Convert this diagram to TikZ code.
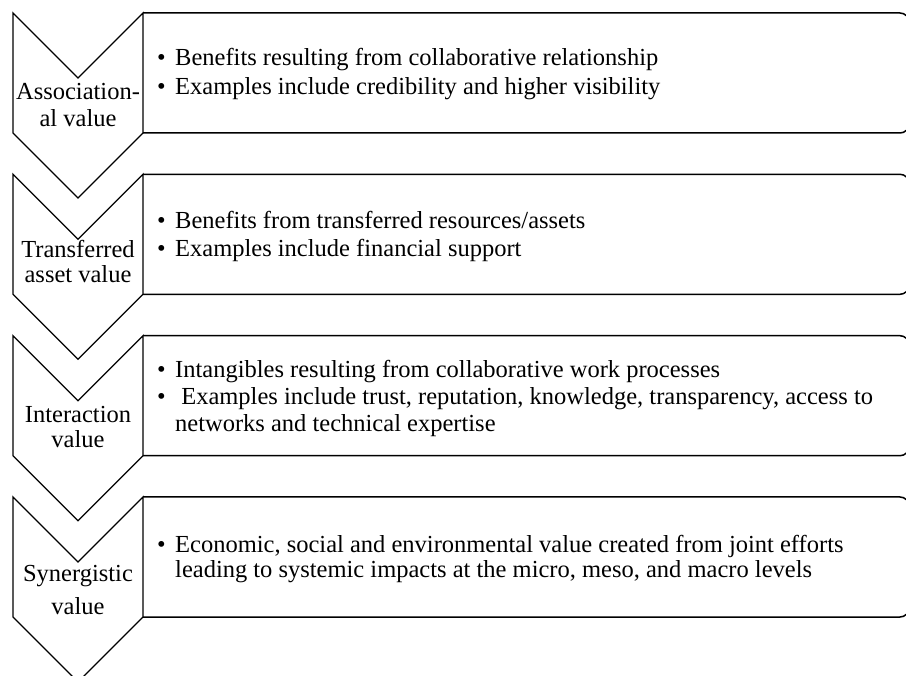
\documentclass[tikz,border=0pt]{standalone}
\usepackage{fontspec}
\setmainfont{Liberation Serif}
\usetikzlibrary{positioning}

\newcommand{\itm}{\makebox[18pt][l]{\textbullet}}
\newcommand{\cont}{\hspace*{18pt}}

\begin{document}
\begin{tikzpicture}[
    x=1pt, y=-1pt,
    chev/.style={draw, line width=1.3pt, line join=miter},
    panel/.style={draw, line width=1.5pt, rounded corners=9pt},
    tag/.style={align=center, inner sep=0pt, font=\fontsize{24.5}{25}\selectfont},
    info/.style={anchor=west, align=left, inner sep=0pt, font=\fontsize{24.5}{27}\selectfont}
]
    \useasboundingbox (0,0) rectangle (906,676);
    % Chevrons with their panels
    \foreach \t in {13, 174.3, 335.7, 497} {
        \draw[chev] (13,\t) -- (78,\t+65) -- (143,\t) -- (143,\t+120)
            -- (78,\t+185) -- (13,\t+120) -- cycle;
        \draw[panel] (143,\t) -- (909,\t) -- (909,\t+120) -- (143,\t+120);
    }
    % Labels inside the chevrons
    \node[tag] (assoc) at (78,105) {Association-\\[2pt]al value};
    \node[tag] (trans) at (78,261.5) {Transferred\\asset value};
    \node[tag] (inter) at (78,427) {Interaction\\value};
    \node[tag] (syn) at (78,590) {Synergistic\\[8pt]value};
    % Bullet text in the panels
    \node[info] (assoc-info) at (157,74) {\itm Benefits resulting from collaborative relationship\\[2pt]
        \itm Examples include credibility and higher visibility};
    \node[info] (trans-info) at (157,236.5) {\itm Benefits from transferred resources/assets\\[1pt]
        \itm Examples include financial support};
    \node[info] (inter-info) at (157,398) {\itm Intangibles resulting from collaborative work processes\\
        \itm\ Examples include trust, reputation, knowledge, transparency, access to\\
        \cont networks and technical expertise};
    \node[info] (syn-info) at (157,559) {\itm Economic, social and environmental value created from joint efforts\\[-2pt]
        \cont leading to systemic impacts at the micro, meso, and macro levels};
\end{tikzpicture}
\end{document}
